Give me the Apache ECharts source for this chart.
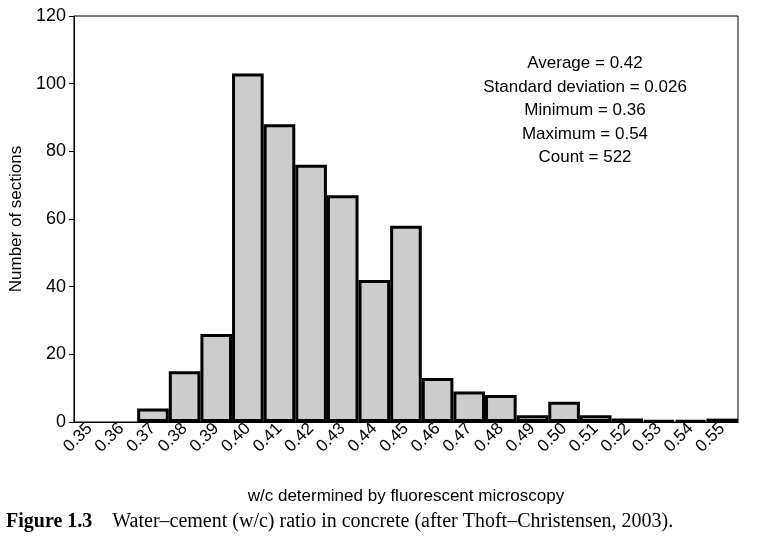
<!DOCTYPE html>
<html><head><meta charset="utf-8">
<script src="https://cdn.jsdelivr.net/npm/echarts@6/dist/echarts.min.js"></script>
<style>html,body{margin:0;padding:0;background:#fff}#main{width:766px;height:544px}</style>
</head><body><div id="main"></div>
<script>
// histogram of w/c ratio
var categories = ['0.35','0.36','0.37','0.38','0.39','0.40','0.41','0.42','0.43','0.44','0.45','0.46','0.47','0.48','0.49','0.50','0.51','0.52','0.53','0.54','0.55'];
var counts = ['-','-',4,15,26,103,88,76,67,42,58,13,9,8,2,6,2,1,0.5,0.5,1];
var statsLines = ['Average = 0.42','Standard deviation = 0.026','Minimum = 0.36','Maximum = 0.54','Count = 522'];

var chart = echarts.init(document.getElementById('main'));
var font = 'Liberation Sans';
chart.setOption({
  animation: false,
  grid: {left: 64, right: 28, top: 16, bottom: 122, show: true, borderColor: '#000', borderWidth: 1},
  xAxis: {
    type: 'category', data: categories, boundaryGap: true,
    name: 'w/c determined by fluorescent microscopy', nameLocation: 'middle', nameGap: 66,
    nameTextStyle: {fontFamily: font, fontSize: 17, color: '#000'},
    axisLine: {lineStyle: {color: '#000'}},
    axisTick: {length: 8, lineStyle: {color: '#000'}},
    axisLabel: {rotate: 45, interval: 0, fontFamily: font, fontSize: 17, color: '#000', margin: 4}
  },
  yAxis: {
    type: 'value', min: 0, max: 120, interval: 20,
    name: 'Number of sections', nameLocation: 'middle', nameGap: 42,
    nameTextStyle: {fontFamily: font, fontSize: 17, color: '#000'},
    axisLine: {show: true, lineStyle: {color: '#000'}},
    axisTick: {show: true, length: 5, lineStyle: {color: '#000'}},
    splitLine: {show: false},
    axisLabel: {fontFamily: font, fontSize: 18, color: '#000'}
  },
  series: [{
    type: 'bar', data: counts, barCategoryGap: '0%',
    itemStyle: {color: '#cccccc', borderColor: '#000', borderWidth: 3}
  }],
  graphic: [{
    type: 'text', x: 585, y: 52,
    style: {text: statsLines.join('\n'), align: 'center',
      fontFamily: font, fontSize: 17, lineHeight: 23.5, fill: '#000'}
  }, {
    type: 'text', left: 6, top: 512,
    style: {
      text: '{b|Figure 1.3}{s|    Water\u2013cement (w/c) ratio in concrete (after Thoft\u2013Christensen, 2003).}',
      rich: {
        b: {fontFamily: 'Liberation Sans Narrow', fontWeight: 'bold', fontSize: 20, fill: '#000'},
        s: {fontFamily: 'Liberation Serif', fontSize: 20, fill: '#000'}
      }
    }
  }]
});
</script></body></html>
